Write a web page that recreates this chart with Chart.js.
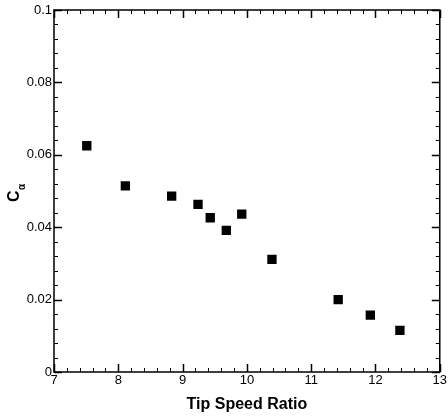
<!DOCTYPE html>
<html>
<head>
<meta charset="utf-8">
<script src="https://cdn.jsdelivr.net/npm/chart.js@4.4.0/dist/chart.umd.min.js"></script>
<style>
  html, body { margin: 0; padding: 0; background: #fff; }
  #wrap { width: 448px; height: 418px; position: relative; }
</style>
</head>
<body>
<div id="wrap"><canvas id="c" width="448" height="418"></canvas></div>
<script>
// Data
const tipSpeedRatio = [7.51, 8.11, 8.83, 9.24, 9.43, 9.68, 9.92, 10.39, 11.42, 11.92, 12.38];
const cAlpha        = [0.0625, 0.0514, 0.0486, 0.0463, 0.0426, 0.0391, 0.0436, 0.0311, 0.0200, 0.0157, 0.0115];
const xTickValues = [7, 8, 9, 10, 11, 12, 13];
const yTickValues = [0, 0.02, 0.04, 0.06, 0.08, 0.1];
const xAxisTitle = 'Tip Speed Ratio';
const yAxisTitleMain = 'C';
const yAxisTitleSub = 'α';

const points = tipSpeedRatio.map((x, i) => ({ x: x, y: cAlpha[i] }));
const FONT = '"Liberation Sans", Arial, Helvetica, sans-serif';

const frameTicks = {
  id: 'frameTicks',
  afterDraw(chart) {
    const ctx = chart.ctx;
    const xs = chart.scales.x, ys = chart.scales.y;
    const a = chart.chartArea;
    ctx.save();
    ctx.strokeStyle = '#000';
    // minor + major ticks, inward on all four sides
    const xMin = xTickValues[0], xMax = xTickValues[xTickValues.length - 1];
    for (let i = 0; i <= (xMax - xMin) * 5; i++) {
      const v = xMin + i * 0.2;
      const px = Math.round(xs.getPixelForValue(v)) + 0.5;
      const major = i % 5 === 0;
      const len = major ? 8 : 4;
      ctx.lineWidth = major ? 1.5 : 1;
      ctx.beginPath();
      ctx.moveTo(px, a.bottom); ctx.lineTo(px, a.bottom - len);
      ctx.moveTo(px, a.top); ctx.lineTo(px, a.top + len);
      ctx.stroke();
    }
    const yMin = yTickValues[0], yMax = yTickValues[yTickValues.length - 1];
    const nMinor = Math.round((yMax - yMin) / 0.004);
    for (let i = 0; i <= nMinor; i++) {
      const v = yMin + i * 0.004;
      const py = Math.round(ys.getPixelForValue(v)) + 0.5;
      const major = i % 5 === 0;
      const len = major ? 8 : 4;
      ctx.lineWidth = major ? 1.5 : 1;
      ctx.beginPath();
      ctx.moveTo(a.left, py); ctx.lineTo(a.left + len, py);
      ctx.moveTo(a.right, py); ctx.lineTo(a.right - len, py);
      ctx.stroke();
    }
    // frame
    ctx.lineWidth = 1.5;
    ctx.strokeRect(a.left, a.top, a.right - a.left, a.bottom - a.top);
    // y axis title: C with subscript alpha, rotated
    ctx.fillStyle = '#000';
    ctx.translate(19, 202);
    ctx.rotate(-Math.PI / 2);
    ctx.textBaseline = 'alphabetic';
    ctx.textAlign = 'left';
    ctx.font = 'bold 16px ' + FONT;
    ctx.fillText(yAxisTitleMain, 0, 0);
    const w = ctx.measureText(yAxisTitleMain).width;
    ctx.font = 'bold 10px ' + FONT;
    ctx.fillText(yAxisTitleSub, w + 0.5, 5.5);
    ctx.restore();
  }
};

new Chart(document.getElementById('c'), {
  type: 'scatter',
  data: {
    datasets: [{
      data: points,
      pointStyle: 'rect',
      pointRadius: 6.6,
      pointHoverRadius: 6.6,
      backgroundColor: '#000',
      borderColor: '#000',
      borderWidth: 0
    }]
  },
  options: {
    responsive: false,
    animation: false,
    events: [],
    layout: { padding: { left: 0, right: 5, top: 10, bottom: 0 }, autoPadding: false },
    plugins: { legend: { display: false }, tooltip: { enabled: false } },
    scales: {
      x: {
        type: 'linear', min: 7, max: 13,
        afterFit(s) { s.height = 46; },
        afterBuildTicks(s) { s.ticks = xTickValues.map(v => ({ value: v })); },
        grid: { display: false, drawTicks: false },
        border: { display: false },
        ticks: { padding: 1, color: '#000', font: { family: FONT, size: 13 }, maxRotation: 0 },
        title: { display: true, text: xAxisTitle, color: '#000', font: { family: FONT, size: 16, weight: 'bold' }, padding: { top: 4, bottom: 4 } }
      },
      y: {
        type: 'linear', min: 0, max: 0.1,
        afterFit(s) { s.width = 54; },
        afterBuildTicks(s) { s.ticks = yTickValues.map(v => ({ value: v })); },
        grid: { display: false, drawTicks: false },
        border: { display: false },
        ticks: {
          padding: 2, color: '#000', font: { family: FONT, size: 13 },
          callback: v => String(parseFloat(Number(v).toFixed(3)))
        }
      }
    }
  },
  plugins: [frameTicks]
});
</script>
</body>
</html>
